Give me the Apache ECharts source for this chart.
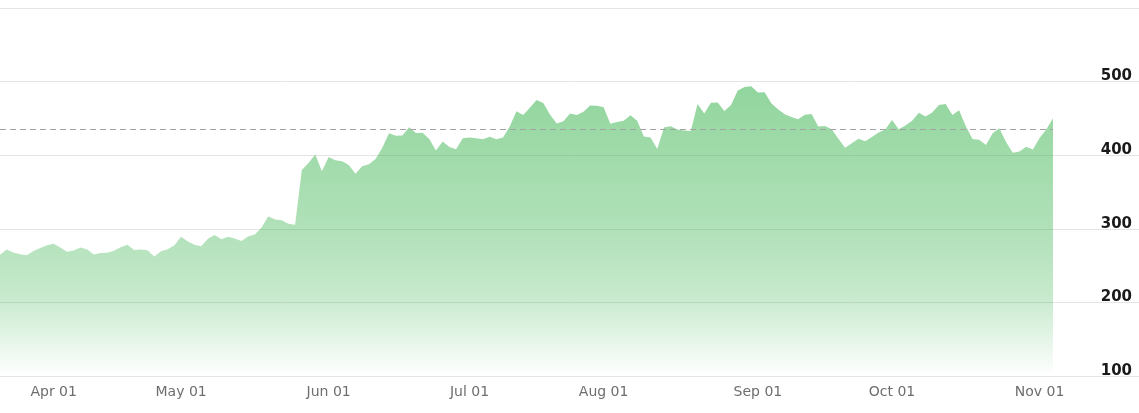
<!DOCTYPE html>
<html>
<head>
<meta charset="utf-8">
<script src="https://cdn.jsdelivr.net/npm/echarts@6/dist/echarts.min.js"></script>
<style>html,body{margin:0;padding:0;background:#fff;}#chart{width:1139px;height:413px;}</style>
</head>
<body>
<div id="chart"></div>
<script>
var dates = ['2023-03-22','2023-03-23','2023-03-24','2023-03-27','2023-03-28','2023-03-29','2023-03-30','2023-03-31',
'2023-04-03','2023-04-04','2023-04-05','2023-04-06','2023-04-10','2023-04-11','2023-04-12','2023-04-13','2023-04-14','2023-04-17','2023-04-18','2023-04-19','2023-04-20','2023-04-21','2023-04-24','2023-04-25','2023-04-26','2023-04-27','2023-04-28',
'2023-05-01','2023-05-02','2023-05-03','2023-05-04','2023-05-05','2023-05-08','2023-05-09','2023-05-10','2023-05-11','2023-05-12','2023-05-15','2023-05-16','2023-05-17','2023-05-18','2023-05-19','2023-05-22','2023-05-23','2023-05-24','2023-05-25','2023-05-26','2023-05-30','2023-05-31',
'2023-06-01','2023-06-02','2023-06-05','2023-06-06','2023-06-07','2023-06-08','2023-06-09','2023-06-12','2023-06-13','2023-06-14','2023-06-15','2023-06-16','2023-06-20','2023-06-21','2023-06-22','2023-06-23','2023-06-26','2023-06-27','2023-06-28','2023-06-29','2023-06-30',
'2023-07-03','2023-07-05','2023-07-06','2023-07-07','2023-07-10','2023-07-11','2023-07-12','2023-07-13','2023-07-14','2023-07-17','2023-07-18','2023-07-19','2023-07-20','2023-07-21','2023-07-24','2023-07-25','2023-07-26','2023-07-27','2023-07-28','2023-07-31',
'2023-08-01','2023-08-02','2023-08-03','2023-08-04','2023-08-07','2023-08-08','2023-08-09','2023-08-10','2023-08-11','2023-08-14','2023-08-15','2023-08-16','2023-08-17','2023-08-18','2023-08-21','2023-08-22','2023-08-23','2023-08-24','2023-08-25','2023-08-28','2023-08-29','2023-08-30','2023-08-31',
'2023-09-01','2023-09-05','2023-09-06','2023-09-07','2023-09-08','2023-09-11','2023-09-12','2023-09-13','2023-09-14','2023-09-15','2023-09-18','2023-09-19','2023-09-20','2023-09-21','2023-09-22','2023-09-25','2023-09-26','2023-09-27','2023-09-28','2023-09-29',
'2023-10-02','2023-10-03','2023-10-04','2023-10-05','2023-10-06','2023-10-09','2023-10-10','2023-10-11','2023-10-12','2023-10-13','2023-10-16','2023-10-17','2023-10-18','2023-10-19','2023-10-20','2023-10-23','2023-10-24','2023-10-25','2023-10-26','2023-10-27','2023-10-30','2023-10-31',
'2023-11-01','2023-11-02','2023-11-03'];

var closes = [264.68,271.91,267.79,265.33,264.10,269.84,273.83,277.77,
279.65,274.53,268.81,270.37,274.50,271.80,264.95,267.04,267.51,270.12,275.03,278.22,271.28,271.71,270.94,262.41,269.56,272.26,277.49,
289.10,282.78,278.35,276.36,286.55,291.51,285.71,289.03,286.70,283.40,289.52,292.13,301.78,316.78,312.64,311.76,306.88,305.38,379.80,389.46,401.11,378.34,
397.70,393.27,391.71,386.54,374.75,385.10,387.70,394.82,410.22,429.97,426.53,426.92,438.08,430.25,430.66,422.09,406.32,418.76,411.17,408.22,423.02,
424.13,423.13,421.80,425.03,421.80,424.05,439.02,459.77,454.69,464.61,474.94,470.77,455.20,443.09,446.12,456.79,454.52,459.00,467.50,467.29,
465.07,442.69,445.15,446.80,454.17,446.64,425.54,423.88,408.55,437.53,439.40,434.86,433.44,432.99,469.67,456.68,471.16,471.63,460.18,468.35,487.84,492.64,493.55,
485.09,485.48,470.61,462.41,455.72,451.78,448.70,454.85,455.81,439.00,439.66,435.20,422.39,410.17,416.10,422.22,419.11,424.68,430.89,434.99,
447.82,435.17,440.41,446.88,457.62,452.73,457.98,468.06,469.45,454.61,460.95,439.38,421.96,421.01,413.87,429.75,436.63,417.79,403.26,405.00,411.61,407.80,
423.25,435.06,450.05];

var tickDates = ['2023-04-03','2023-05-01','2023-06-01','2023-07-03','2023-08-01','2023-09-01','2023-10-02','2023-11-01'];
var tickLabels = ['Apr 01','May 01','Jun 01','Jul 01','Aug 01','Sep 01','Oct 01','Nov 01'];
var yTicks = [100, 200, 300, 400, 500];
var refLine = 435;

var chart = echarts.init(document.getElementById('chart'), null, {renderer: 'canvas'});
chart.setOption({
  animation: false,
  backgroundColor: '#ffffff',
  grid: [
    {left: 0, right: 0, top: 8, bottom: 37, containLabel: false},
    {left: 0, right: 86, top: 8, bottom: 37, containLabel: false}
  ],
  xAxis: [
    {gridIndex: 0, type: 'value', min: 0, max: 1, show: false},
    {gridIndex: 1, type: 'category', data: dates, boundaryGap: false,
      axisLine: {show: false}, axisTick: {show: false}, splitLine: {show: false},
      axisLabel: {
        interval: function (i, v) { return tickDates.indexOf(v) >= 0; },
        formatter: function (v) { var k = tickDates.indexOf(v); return k >= 0 ? tickLabels[k] : ''; },
        color: '#6e6e6e', fontFamily: 'DejaVu Sans', fontSize: 14, margin: 9
      }
    }
  ],
  yAxis: [
    {gridIndex: 0, type: 'value', min: 100, max: 600, interval: 100, position: 'right',
      axisLine: {show: false}, axisTick: {show: false},
      splitLine: {show: true, lineStyle: {color: '#e4e4e4', width: 1}},
      axisLabel: {inside: true, margin: 7, verticalAlign: 'bottom', lineHeight: 10,
        color: '#1a1a1a', fontFamily: 'DejaVu Sans', fontSize: 15, fontWeight: 'bold',
        formatter: function (v) { return yTicks.indexOf(v) >= 0 ? String(v) : ''; }
      }
    },
    {gridIndex: 1, type: 'value', min: 100, max: 600, show: false}
  ],
  series: [{
    type: 'line', xAxisIndex: 1, yAxisIndex: 1, data: closes,
    symbol: 'none', smooth: false,
    lineStyle: {width: 0},
    areaStyle: {
      opacity: 1,
      color: new echarts.graphic.LinearGradient(0, 0, 0, 1, [
        {offset: 0, color: 'rgba(60,180,80,0.56)'},
        {offset: 0.5, color: 'rgba(60,180,80,0.40)'},
        {offset: 0.72, color: 'rgba(60,180,80,0.29)'},
        {offset: 0.86, color: 'rgba(60,180,80,0.15)'},
        {offset: 1, color: 'rgba(60,180,80,0.0)'}
      ])
    },
    markLine: {
      silent: true, symbol: ['none', 'none'], label: {show: false},
      lineStyle: {color: '#a3a3a3', type: [6, 4], width: 1},
      data: [{yAxis: refLine}]
    }
  }]
});
</script>
</body>
</html>
